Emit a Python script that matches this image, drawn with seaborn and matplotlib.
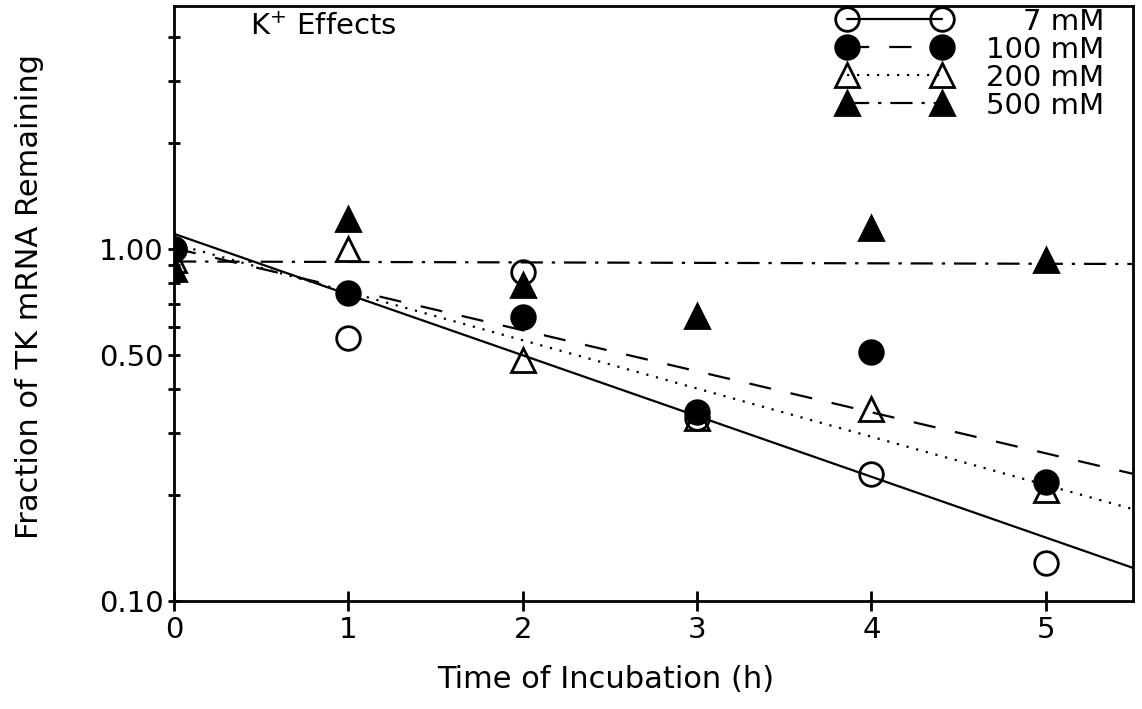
import numpy as np
import pandas as pd
import matplotlib
matplotlib.use("Agg")
import matplotlib.pyplot as plt
import seaborn as sns
from matplotlib.lines import Line2D
from matplotlib.ticker import FixedLocator, FixedFormatter, NullFormatter

# ---- data ----
time_h = [0, 1, 2, 3, 4, 5]
k_7mM = [1.00, 0.56, 0.86, 0.33, 0.23, 0.128]
k_100mM = [1.00, 0.75, 0.64, 0.345, 0.51, 0.218]
k_200mM = [0.93, 1.00, 0.485, 0.33, 0.35, 0.207]
k_500mM = [0.88, 1.22, 0.79, 0.645, 1.15, 0.93]
series_labels = ["7 mM", "100 mM", "200 mM", "500 mM"]
y_major = [0.10, 0.50, 1.00]
y_major_labels = ["0.10", "0.50", "1.00"]
y_minor = [0.2, 0.3, 0.4, 0.6, 0.7, 0.8, 0.9, 2, 3, 4]
x_ticks = [0, 1, 2, 3, 4, 5]

sns.set_style("ticks")
plt.rcParams["font.family"] = ["DejaVu Sans"]
plt.rcParams["text.color"] = "black"
FS = 21
FS_LAB = 22

fig = plt.figure(figsize=(11.42, 7.09), dpi=100)
ax = fig.add_axes([174 / 1142, 1 - 601 / 709, (1133 - 174) / 1142, (601 - 6) / 709])

styles = [
    dict(marker="o", mfc="none", dashes=None),
    dict(marker="o", mfc="black", dashes=(10, 9)),
    dict(marker="^", mfc="none", dashes=(1, 3.5)),
    dict(marker="^", mfc="black", dashes=(10, 4, 1.5, 4)),
]
series = [k_7mM, k_100mM, k_200mM, k_500mM]

x_fit = np.linspace(0, 5.5, 60)
handles = []
LW = 1.6
MS = 17
for vals, st, lab in zip(series, styles, series_labels):
    coef = np.polyfit(time_h, np.log10(vals), 1)
    y_fit = 10 ** np.polyval(coef, x_fit)
    kw = dict(color="black", lw=LW)
    if st["dashes"] is not None:
        kw["dashes"] = st["dashes"]
    sns.lineplot(x=x_fit, y=y_fit, ax=ax, **kw)
    sns.lineplot(x=time_h, y=vals, ax=ax, marker=st["marker"], linestyle="",
                 mfc=st["mfc"], mec="black", mew=2.0, ms=MS, color="black", zorder=3)
    h = Line2D([], [], color="black", lw=LW, marker=st["marker"], mfc=st["mfc"],
               mec="black", mew=2.0, ms=MS, ls="-")
    if st["dashes"] is not None:
        h.set_dashes(st["dashes"])
    handles.append(h)

ax.set_yscale("log")
ax.set_xlim(0, 5.5)
ax.set_ylim(0.1, 4.9)

ax.xaxis.set_major_locator(FixedLocator(x_ticks))
ax.set_xticklabels([str(t) for t in x_ticks])
ax.yaxis.set_major_locator(FixedLocator(y_major))
ax.yaxis.set_major_formatter(FixedFormatter(y_major_labels))
ax.yaxis.set_minor_locator(FixedLocator(y_minor))
ax.yaxis.set_minor_formatter(NullFormatter())

ax.tick_params(axis="x", which="major", direction="inout", length=14, width=2,
               labelsize=FS, pad=4, color="black", labelcolor="black")
ax.tick_params(axis="y", which="both", direction="inout", length=9, width=2,
               labelsize=FS, pad=3, color="black", labelcolor="black")
for sp in ax.spines.values():
    sp.set_linewidth(2)
    sp.set_color("black")
    sp.set_visible(True)

ax.set_xlabel("Time of Incubation (h)", fontsize=FS_LAB, color="black")
ax.set_ylabel("Fraction of TK mRNA Remaining", fontsize=FS_LAB, color="black")
ax.xaxis.set_label_coords(0.4505, -0.108)
ax.yaxis.set_label_coords(-0.136, 0.511)

ax.text(0.079, 0.988, "K$^{+}$ Effects", transform=ax.transAxes, fontsize=FS,
        va="top", ha="left", color="black")

legend_labels = ["    7 mM", "100 mM", "200 mM", "500 mM"]
ax.legend(handles, legend_labels, numpoints=2, handlelength=3.85, frameon=False,
          loc="upper right", bbox_to_anchor=(0.976, 1.007), borderaxespad=0,
          fontsize=FS, labelspacing=0.0, handletextpad=1.2, borderpad=0.2,
          labelcolor="black")

fig.savefig("out.png", dpi=100)
